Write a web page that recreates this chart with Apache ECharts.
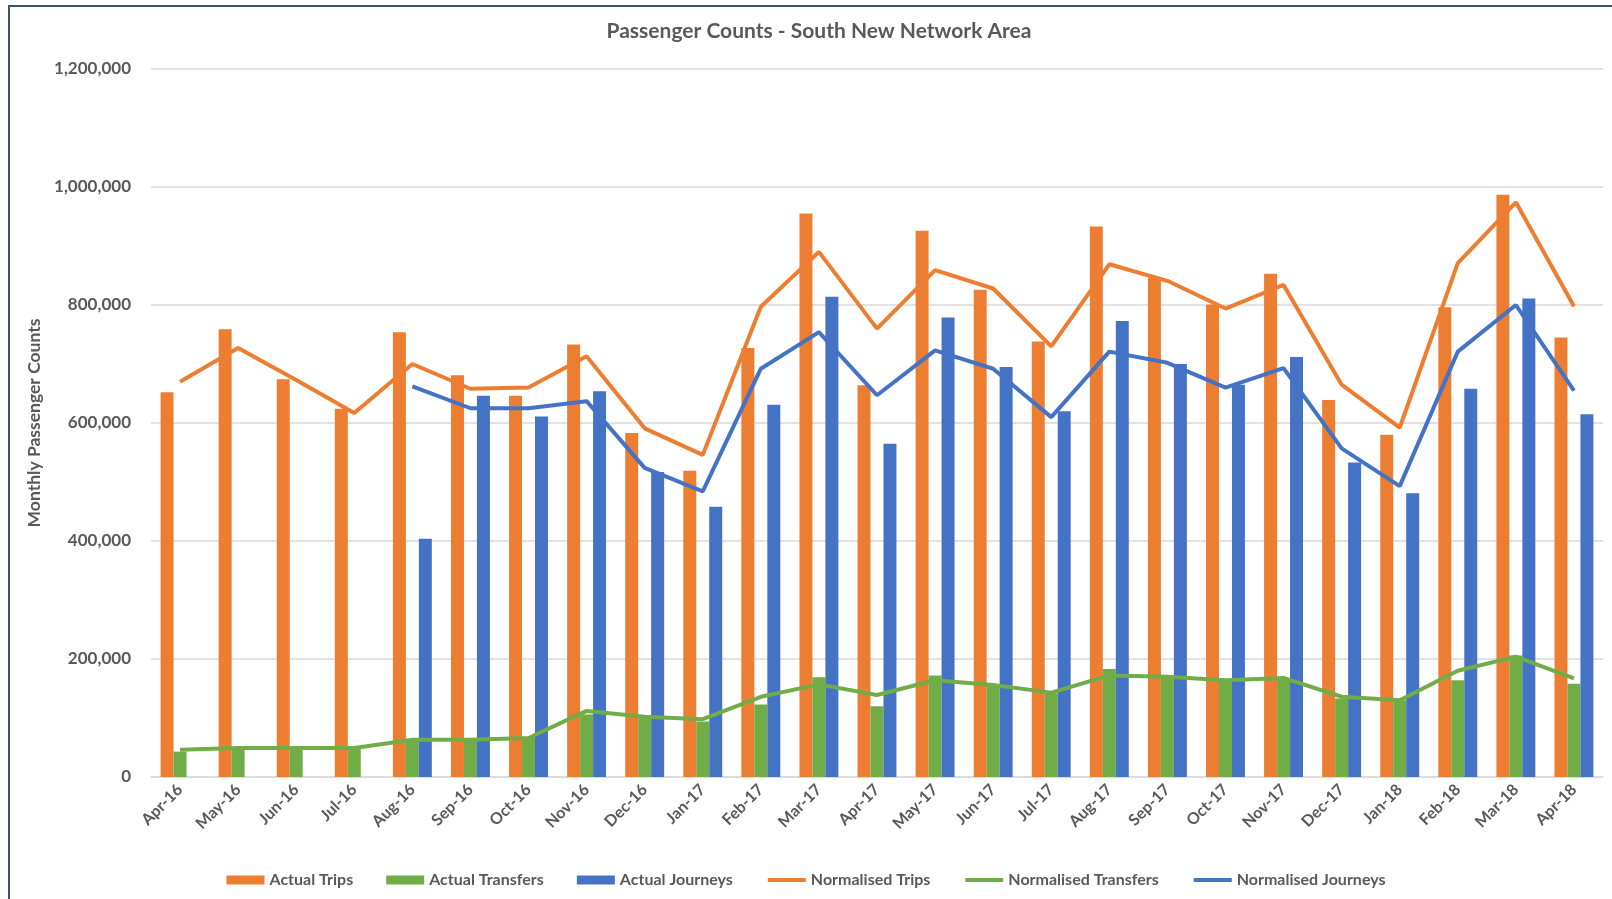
<!DOCTYPE html>
<html>
<head>
<meta charset="utf-8">
<title>Passenger Counts - South New Network Area</title>
<script src="https://cdn.jsdelivr.net/npm/echarts@6/dist/echarts.min.js"></script>
<style>
    html, body { margin: 0; padding: 0; background: #fff; overflow: hidden; }
    #chart { position: absolute; left: 0; top: 0; width: 1612px; height: 899px; }
    #frame { position: absolute; left: 8px; top: 5px; width: 1700px; height: 1000px;
             border-left: 2px solid #3f5069; border-top: 2px solid #3f5069; pointer-events: none; }
</style>
</head>
<body>
<div id="chart"></div>
<div id="frame"></div>
<script>
// Month categories
const months = [
    'Apr-16', 'May-16', 'Jun-16', 'Jul-16', 'Aug-16', 'Sep-16', 'Oct-16', 'Nov-16', 'Dec-16',
    'Jan-17', 'Feb-17', 'Mar-17', 'Apr-17', 'May-17', 'Jun-17', 'Jul-17', 'Aug-17', 'Sep-17',
    'Oct-17', 'Nov-17', 'Dec-17', 'Jan-18', 'Feb-18', 'Mar-18', 'Apr-18'
];

// Bars (actual counts)
const actualTrips = [
    652000, 759000, 674000, 624000, 754000, 681000, 646000, 733000, 583000,
    519000, 727000, 955000, 664000, 926000, 826000, 738000, 933000, 846000,
    801000, 853000, 639000, 580000, 796000, 987000, 745000
];
const actualTransfers = [
    43000, 49000, 49000, 49000, 64000, 64000, 68000, 106000, 100000,
    94000, 123000, 169000, 120000, 172000, 156000, 142000, 183000, 171000,
    164000, 168000, 133000, 130000, 164000, 206000, 158000
];
const actualJourneys = [
    null, null, null, null, 404000, 646000, 611000, 654000, 517000,
    458000, 631000, 814000, 565000, 779000, 695000, 620000, 773000, 700000,
    665000, 712000, 533000, 481000, 658000, 811000, 615000
];

// Lines (normalised counts)
const normTrips = [
    670000, 727000, 673000, 617000, 700000, 658000, 660000, 713000, 591000,
    546000, 797000, 890000, 760000, 859000, 828000, 730000, 869000, 841000,
    794000, 834000, 665000, 592000, 871000, 974000, 798000
];
const normTransfers = [
    46000, 49000, 49000, 49000, 63000, 63000, 66000, 112000, 102000,
    98000, 136000, 157000, 139000, 164000, 156000, 143000, 172000, 170000,
    164000, 168000, 136000, 130000, 180000, 204000, 167000
];
const normJourneys = [
    null, null, null, null, 662000, 625000, 625000, 637000, 524000,
    484000, 692000, 754000, 647000, 723000, 692000, 610000, 721000, 702000,
    660000, 693000, 557000, 493000, 721000, 800000, 655000
];

const ORANGE = '#ED7D31';
const GREEN = '#70AD47';
const BLUE = '#4472C4';
const TEXT = '#595959';
const FONT = 'Lato, "Open Sans", sans-serif';

const chart = echarts.init(document.getElementById('chart'), null, { renderer: 'canvas' });

function barSeries(name, data, color) {
    return {
        name: name,
        type: 'bar',
        data: data,
        barGap: '0%',
        barCategoryGap: '33%',
        itemStyle: { color: color },
        animation: false
    };
}

function lineSeries(name, data, color) {
    return {
        name: name,
        type: 'line',
        data: data,
        symbol: 'none',
        connectNulls: false,
        lineStyle: { color: color, width: 4 },
        itemStyle: { color: color },
        animation: false
    };
}

// legend entry for a line: plain thick stroke, no marker
function lineLegend(name) {
    return { name: name, itemStyle: { opacity: 0 }, lineStyle: { width: 4 } };
}

const option = {
    backgroundColor: '#fff',
    title: {
        text: 'Passenger Counts - South New Network Area',
        left: 814,
        textAlign: 'center',
        top: 16,
        textStyle: { color: TEXT, fontSize: 21, fontWeight: 'bold', fontFamily: FONT }
    },
    legend: {
        bottom: 6,
        left: 'center',
        itemWidth: 38,
        itemHeight: 9,
        itemGap: 33,
        textStyle: { color: TEXT, fontSize: 16, fontWeight: 'bold', fontFamily: FONT },
        data: [
            { name: 'Actual Trips', icon: 'rect' },
            { name: 'Actual Transfers', icon: 'rect' },
            { name: 'Actual Journeys', icon: 'rect' },
            lineLegend('Normalised Trips'),
            lineLegend('Normalised Transfers'),
            lineLegend('Normalised Journeys')
        ]
    },
    grid: {
        left: 151,
        right: 9,
        top: 69,
        bottom: 122
    },
    xAxis: {
        type: 'category',
        data: months,
        axisTick: { show: false },
        axisLine: { lineStyle: { color: '#d9d9d9', width: 1.5 } },
        axisLabel: {
            rotate: 45,
            interval: 0,
            margin: 10,
            color: TEXT,
            fontSize: 16,
            fontWeight: 'bold',
            fontFamily: FONT
        }
    },
    yAxis: {
        type: 'value',
        min: 0,
        max: 1200000,
        interval: 200000,
        name: 'Monthly Passenger Counts',
        nameLocation: 'middle',
        nameGap: 100,
        nameTextStyle: { color: TEXT, fontSize: 17.5, fontWeight: 'bold', fontFamily: FONT },
        axisLine: { show: false },
        axisTick: { show: false },
        axisLabel: {
            margin: 20,
            color: TEXT,
            fontSize: 17,
            fontWeight: 'bold',
            fontFamily: FONT,
            formatter: (val) => val.toLocaleString('en-US')
        },
        splitLine: { lineStyle: { color: '#d9d9d9', width: 1.5 } }
    },
    series: [
        barSeries('Actual Trips', actualTrips, ORANGE),
        barSeries('Actual Transfers', actualTransfers, GREEN),
        barSeries('Actual Journeys', actualJourneys, BLUE),
        lineSeries('Normalised Trips', normTrips, ORANGE),
        lineSeries('Normalised Transfers', normTransfers, GREEN),
        lineSeries('Normalised Journeys', normJourneys, BLUE)
    ]
};

chart.setOption(option);
window.addEventListener('resize', () => chart.resize());
</script>
</body>
</html>
